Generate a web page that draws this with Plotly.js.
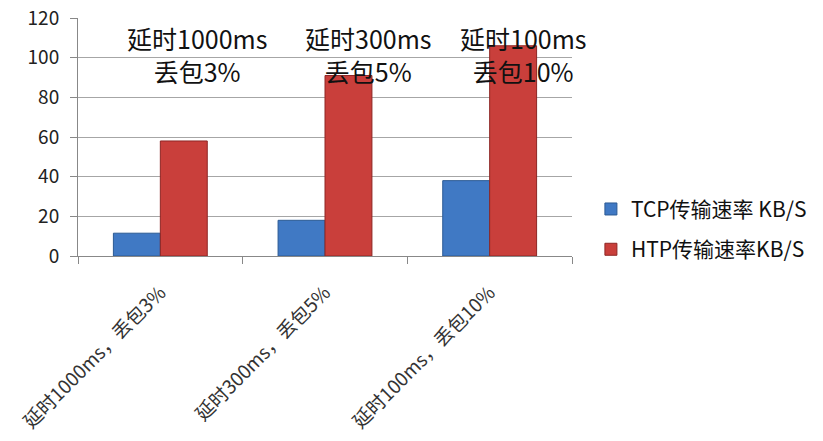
<!DOCTYPE html>
<html>
<head>
<meta charset="utf-8">
<script src="https://cdn.plot.ly/plotly-3.0.1.min.js"></script>
<style>html,body{margin:0;padding:0;background:#fff;}#chart{width:823px;height:441px;}</style>
</head>
<body>
<div id="chart"></div>
<script>
const categories = ["延时1000ms，丢包3%", "延时300ms，丢包5%", "延时100ms，丢包10%"];
const tcpValues = [11.5, 18, 38];
const htpValues = [58, 91, 106];
const seriesNames = ["TCP传输速率 KB/S", "HTP传输速率KB/S"];
const noteTexts = ["延时1000ms<br>丢包3%", "延时300ms<br>丢包5%", "延时100ms<br>丢包10%"];
const noteOffsets = [0.22, 0.26, 0.2];
const yTicks = [0, 20, 40, 60, 80, 100, 120];

const font = "'Noto Sans CJK SC', 'Noto Sans', sans-serif";

const traces = [
  {type: 'bar', name: seriesNames[0], x: categories, y: tcpValues, legendgroup: 'a',
   marker: {color: '#4079c4', line: {color: '#2b5a94', width: 1}}},
  {type: 'bar', name: seriesNames[1], x: categories, y: htpValues, legendgroup: 'b',
   marker: {color: '#c93f3b', line: {color: '#8e2624', width: 1}}}
];

const annotations = noteTexts.map((t, i) => ({
  x: i + noteOffsets[i], y: 120, xref: 'x', yref: 'y', yanchor: 'top', yshift: 0,
  text: t, showarrow: false, align: 'center',
  font: {family: font, size: 25, color: '#111'}
}));

const layout = {
  width: 823, height: 441,
  margin: {l: 78, r: 251, t: 18, b: 185, autoexpand: false},
  paper_bgcolor: '#fff', plot_bgcolor: '#fff',
  barmode: 'group', bargap: 0.43, bargroupgap: 0,
  showlegend: true,
  legend: {xref: 'container', yref: 'container', x: 0.718, y: 0.48, xanchor: 'left', yanchor: 'middle',
           traceorder: 'grouped', bgcolor: 'rgba(0,0,0,0)',
           font: {family: font, size: 21, color: '#111'}, tracegroupgap: 10, itemwidth: 30},
  xaxis: {type: 'category', range: [-0.5, 2.5], tickangle: -45, showgrid: false, showline: true, linecolor: '#888',
          ticks: 'outside', ticklen: 7, tickcolor: '#888', tickson: 'boundaries',
          ticklabelstandoff: 17, automargin: false,
          tickfont: {family: font, size: 19, color: '#333'}},
  yaxis: {range: [0, 120], tickvals: yTicks, showgrid: true, gridcolor: '#a6a6a6', gridwidth: 1,
          showline: true, linecolor: '#888', ticks: 'outside', ticklen: 7, tickcolor: '#888',
          ticklabelstandoff: 7,
          zeroline: false, automargin: false, tickfont: {family: font, size: 19, color: '#222'}},
  annotations: annotations
};

Plotly.newPlot('chart', traces, layout, {displayModeBar: false, staticPlot: true});
</script>
</body>
</html>
